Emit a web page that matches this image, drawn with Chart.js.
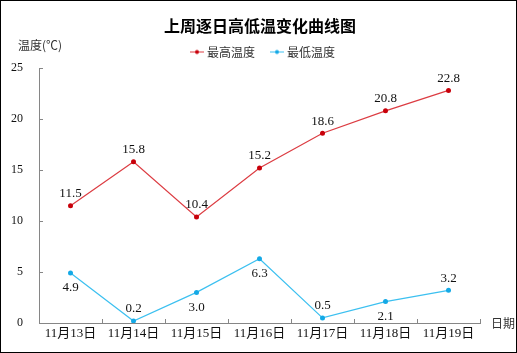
<!DOCTYPE html>
<html>
<head>
<meta charset="utf-8">
<script src="https://cdn.jsdelivr.net/npm/chart.js@4"></script>
<style>
  body { margin: 0; background: #fff; }
  #wrap { width: 515px; height: 351px; border: 1px solid #000; background: #fff; }
</style>
</head>
<body>
<div id="wrap"><canvas id="tempChart" width="515" height="351"></canvas></div>
<script>
// data
const days = ['11月13日', '11月14日', '11月15日', '11月16日', '11月17日', '11月18日', '11月19日'];
const highTemps = [11.5, 15.8, 10.4, 15.2, 18.6, 20.8, 22.8];
const lowTemps = [4.9, 0.2, 3.0, 6.3, 0.5, 2.1, 3.2];
const yTickValues = [0, 5, 10, 15, 20, 25];

const RED_LINE = '#dc3c42';
const RED_DOT = '#c8000a';
const BLUE_LINE = '#3cc0f0';
const BLUE_DOT = '#14a9e6';
const AXIS = '#868686';
const SERIF = "'Liberation Serif', 'Noto Sans CJK SC', serif";
const SANS = "'Noto Sans CJK SC', 'Noto Sans', sans-serif";

// where each value label sits relative to its point
const labelSides = [
  ['above', 'above', 'above', 'above', 'above', 'above', 'above'],
  ['below', 'above', 'below', 'below', 'above', 'below', 'above']
];

// little line + dot used as legend symbol
function legendMark(lineColor, dotColor) {
  const c = document.createElement('canvas');
  c.width = 22;
  c.height = 9;
  const g = c.getContext('2d');
  g.strokeStyle = lineColor;
  g.lineWidth = 1;
  g.beginPath();
  g.moveTo(8, 4.5);
  g.lineTo(22, 4.5);
  g.stroke();
  g.fillStyle = dotColor;
  g.beginPath();
  g.arc(15, 4.5, 2, 0, Math.PI * 2);
  g.fill();
  return c;
}
const legendMarks = [legendMark(RED_LINE, RED_DOT), legendMark(BLUE_LINE, BLUE_DOT)];

// value labels, inward ticks, axis captions
const extrasPlugin = {
  id: 'extras',
  afterDatasetsDraw(chart) {
    const ctx = chart.ctx;
    ctx.save();
    ctx.font = '13px ' + SERIF;
    ctx.fillStyle = '#111';
    ctx.textAlign = 'center';
    ctx.textBaseline = 'middle';
    chart.data.datasets.forEach((ds, d) => {
      chart.getDatasetMeta(d).data.forEach((pt, i) => {
        const above = labelSides[d][i] === 'above';
        ctx.fillText(ds.data[i].toFixed(1), pt.x, above ? pt.y - 12 : pt.y + 15);
      });
    });
    ctx.restore();
  },
  afterDraw(chart) {
    const { ctx, chartArea, scales: { x, y } } = chart;
    ctx.save();
    ctx.strokeStyle = AXIS;
    ctx.lineWidth = 1;
    ctx.beginPath();
    yTickValues.slice(1).forEach(v => {
      const py = Math.round(y.getPixelForValue(v)) + 0.5;
      ctx.moveTo(chartArea.left, py);
      ctx.lineTo(chartArea.left + 4, py);
    });
    for (let i = 1; i <= days.length; i++) {
      const px = Math.round(x.getPixelForValue(i - 0.5)) + 0.5;
      ctx.moveTo(px, chartArea.bottom);
      ctx.lineTo(px, chartArea.bottom - 4);
    }
    ctx.stroke();

    ctx.font = '12px ' + SANS;
    ctx.fillStyle = '#333';
    ctx.textBaseline = 'middle';
    ctx.textAlign = 'left';
    ctx.fillText('温度(℃)', chartArea.left - 21, chartArea.top - 23);
    ctx.fillText('日期', chartArea.right + 11, chartArea.bottom);
    ctx.restore();
  }
};

new Chart(document.getElementById('tempChart'), {
  type: 'line',
  data: {
    labels: days,
    datasets: [
      {
        label: '最高温度',
        data: highTemps,
        borderColor: RED_LINE,
        backgroundColor: RED_DOT,
        borderWidth: 1.2,
        pointRadius: 2.5,
        pointBorderWidth: 0,
        pointBackgroundColor: RED_DOT,
        tension: 0
      },
      {
        label: '最低温度',
        data: lowTemps,
        borderColor: BLUE_LINE,
        backgroundColor: BLUE_DOT,
        borderWidth: 1.2,
        pointRadius: 2.5,
        pointBorderWidth: 0,
        pointBackgroundColor: BLUE_DOT,
        tension: 0
      }
    ]
  },
  options: {
    responsive: false,
    animation: false,
    devicePixelRatio: 1,
    layout: { padding: { left: 3, right: 0, top: 0, bottom: 0 } },
    plugins: {
      title: {
        display: true,
        text: '上周逐日高低温变化曲线图',
        color: '#000',
        font: { family: SANS, size: 16, weight: 'bold' },
        padding: { top: 6, bottom: 0 }
      },
      legend: {
        display: true,
        labels: {
          usePointStyle: true,
          pointStyleWidth: 16,
          padding: 10,
          color: '#333',
          font: { family: SANS, size: 12 },
          generateLabels(chart) {
            const items = Chart.defaults.plugins.legend.labels.generateLabels(chart);
            items.forEach((it, i) => { it.pointStyle = legendMarks[i]; });
            return items;
          }
        }
      },
      tooltip: { enabled: false }
    },
    scales: {
      x: {
        offset: true,
        grid: { display: false, drawTicks: false },
        border: { color: AXIS },
        ticks: {
          color: '#111',
          font: { family: SERIF, size: 13 },
          padding: 3,
          maxRotation: 0,
          autoSkip: false
        },
        afterFit(scale) {
          scale.height = 29;
          scale.paddingRight = 36;
        }
      },
      y: {
        min: 0,
        max: 25,
        grid: { display: false, drawTicks: false },
        border: { color: AXIS },
        ticks: {
          stepSize: 5,
          color: '#111',
          font: { family: SERIF, size: 12 },
          padding: 16
        },
        afterFit(scale) {
          scale.width = 35;
          scale.paddingTop = 67;
        }
      }
    }
  },
  plugins: [extrasPlugin]
});
</script>
</body>
</html>
